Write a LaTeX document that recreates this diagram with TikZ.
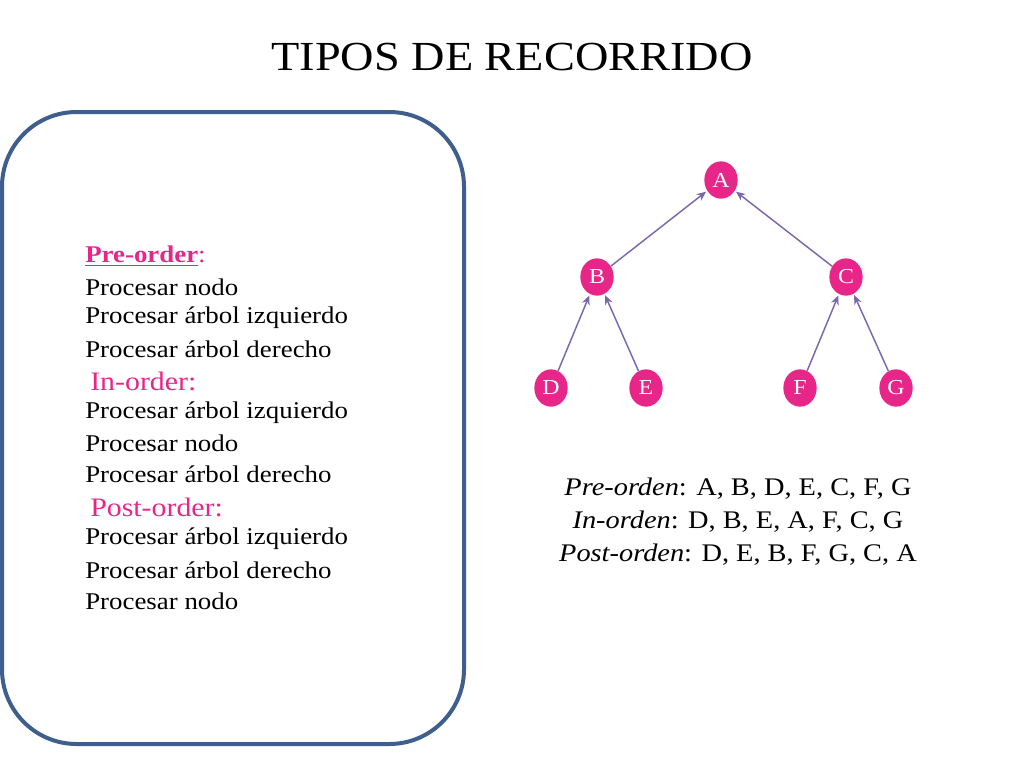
\documentclass[tikz,border=0pt]{standalone}
\usepackage{fontspec}
\setmainfont[FakeStretch=1.12]{Liberation Serif}
\usetikzlibrary{shapes.geometric,arrows.meta}
\definecolor{pk}{HTML}{E8268A}
\definecolor{ar}{HTML}{7A67AE}
\definecolor{bx}{HTML}{3E5F8E}
\begin{document}
\begin{tikzpicture}[x=0.75pt,y=-0.75pt,
  tn/.style={ellipse,fill=pk,minimum width=25pt,minimum height=28pt,inner sep=0pt,text=white,font=\fontsize{16}{16}\selectfont},
  ed/.style={draw=ar,line width=1.1pt,-{Stealth[length=7pt,width=6pt]},shorten >=1pt},
  lt/.style={anchor=west,font=\fontsize{18}{18}\selectfont,inner sep=0pt},
  ht/.style={lt,text=pk},
  rt/.style={font=\fontsize{19}{19}\selectfont,inner sep=0pt}]
\useasboundingbox (0,0) rectangle (1024,768);
\node (title) at (512,57) {\fontsize{31}{31}\selectfont TIPOS DE RECORRIDO};
\draw[bx,line width=3pt,rounded corners=56pt] (2,112) rectangle (464,744);
\node[ht] (h1) at (85,256) {\textbf{\underline{Pre-order}}:};
\node[lt] (l1) at (85,287) {Procesar nodo};
\node[lt] (l2) at (85,318) {Procesar árbol izquierdo};
\node[lt] (l3) at (85,349) {Procesar árbol derecho};
\node[ht,font=\fontsize{20}{20}\selectfont] (h2) at (90,381) {In-order:};
\node[lt] (l4) at (85,413) {Procesar árbol izquierdo};
\node[lt] (l5) at (85,443) {Procesar nodo};
\node[lt] (l6) at (85,474) {Procesar árbol derecho};
\node[ht,font=\fontsize{20}{20}\selectfont] (h3) at (90,507) {Post-order:};
\node[lt] (l7) at (85,539) {Procesar árbol izquierdo};
\node[lt] (l8) at (85,570) {Procesar árbol derecho};
\node[lt] (l9) at (85,601) {Procesar nodo};
\node[tn] (A) at (721,180) {A};
\node[tn] (B) at (597,277) {B};
\node[tn] (C) at (846,277) {C};
\node[tn] (D) at (551,388) {D};
\node[tn] (E) at (646,388) {E};
\node[tn] (F) at (800,388) {F};
\node[tn] (G) at (896,388) {G};
\draw[ed] (B) -- (A); \draw[ed] (C) -- (A);
\draw[ed] (D) -- (B); \draw[ed] (E) -- (B);
\draw[ed] (F) -- (C); \draw[ed] (G) -- (C);
\node[rt] (r1) at (738,489) {\textit{Pre-orden}: A, B, D, E, C, F, G};
\node[rt] (r2) at (738,522) {\textit{In-orden}: D, B, E, A, F, C, G};
\node[rt] (r3) at (738,555) {\textit{Post-orden}: D, E, B, F, G, C, A};
\end{tikzpicture}
\end{document}
